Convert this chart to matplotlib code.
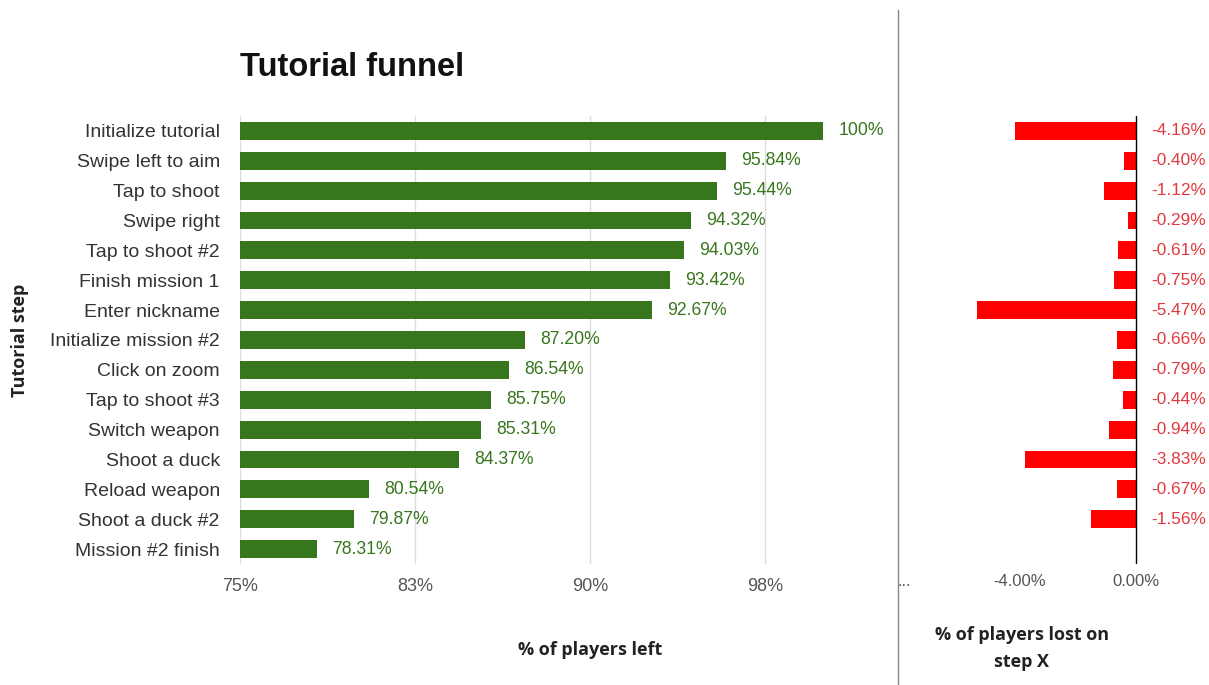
import matplotlib
matplotlib.use("Agg")
import matplotlib.pyplot as plt

steps = ["Initialize tutorial", "Swipe left to aim", "Tap to shoot", "Swipe right",
         "Tap to shoot #2", "Finish mission 1", "Enter nickname", "Initialize mission #2",
         "Click on zoom", "Tap to shoot #3", "Switch weapon", "Shoot a duck",
         "Reload weapon", "Shoot a duck #2", "Mission #2 finish"]
players_left = [100, 95.84, 95.44, 94.32, 94.03, 93.42, 92.67, 87.20,
                86.54, 85.75, 85.31, 84.37, 80.54, 79.87, 78.31]
players_lost = [-4.16, -0.40, -1.12, -0.29, -0.61, -0.75, -5.47, -0.66,
                -0.79, -0.44, -0.94, -3.83, -0.67, -1.56]
left_ticks = [75, 82.5, 90, 97.5]
left_tick_labels = ["75%", "83%", "90%", "98%"]
right_ticks = [-8, -4, 0]
right_tick_labels = ["...", "-4.00%", "0.00%"]

plt.rcParams['font.family'] = ['Liberation Sans', 'DejaVu Sans']
AXFONT = ['Open Sans', 'DejaVu Sans']

W, H = 1209, 685
fig = plt.figure(figsize=(W / 100, H / 100), dpi=100)

def frac(x0, y0, x1, y1):
    return [x0 / W, 1 - y1 / H, (x1 - x0) / W, (y1 - y0) / H]

GREEN = "#38761d"
RED = "#ff0000"
RED_TXT = "#e0393e"
GRAY = "#555555"

# Left panel
ax = fig.add_axes(frac(240, 116, 890, 564))
ypos = list(range(len(steps)))
ax.barh(ypos, [v - 75 for v in players_left], left=75, height=0.6, color=GREEN, zorder=3)
for y, v in zip(ypos, players_left):
    lbl = f"{v:.0f}%" if v == 100 else f"{v:.2f}%"
    ax.annotate(lbl, (v, y), xytext=(11, 0), textcoords="offset points",
                va="center", ha="left", color=GREEN, fontsize=12.7)
ax.set_xlim(75, 102.86)
ax.set_ylim(len(steps) - 0.5, -0.5)
ax.set_xticks(left_ticks)
ax.set_xticklabels(left_tick_labels, color=GRAY, fontsize=13)
ax.set_yticks(ypos)
ax.set_yticklabels(steps, color="#333333", fontsize=14)
ax.tick_params(axis="x", length=0, pad=10)
ax.tick_params(axis="y", length=0, pad=14.5)
ax.grid(axis="x", color="#dddddd", lw=1, zorder=0)
for s in ax.spines.values():
    s.set_visible(False)
ax.set_xlabel("% of players left", fontsize=13, fontweight="bold", color="#222222",
              labelpad=33, family=AXFONT, x=(590 - 240) / 650)
fig.text(20 / W, 1 - 340 / H, "Tutorial step", rotation=90, ha="center", va="center",
         fontsize=13, fontweight="bold", color="#222222", family=AXFONT)
fig.text(240 / W, 1 - 68 / H, "Tutorial funnel", fontsize=23.5, fontweight="bold",
         color="#111111", ha="left", va="center")

# Right panel
ax2 = fig.add_axes(frac(904, 116, 1208, 564))
ypos2 = list(range(len(players_lost)))
ax2.barh(ypos2, players_lost, height=0.6, color=RED, zorder=3)
for y, v in zip(ypos2, players_lost):
    ax2.annotate(f"{v:.2f}%", (0, y), xytext=(11, 0), textcoords="offset points",
                 va="center", ha="left", color=RED_TXT, fontsize=12.4)
ax2.axvline(0, color="black", lw=1, zorder=4)
ax2.set_xlim(-8, 2.48)
ax2.set_ylim(len(steps) - 0.5, -0.5)
ax2.set_xticks(right_ticks)
ax2.set_xticklabels(right_tick_labels, color=GRAY, fontsize=12)
ax2.set_yticks([])
ax2.tick_params(axis="x", length=0, pad=7)
for s in ax2.spines.values():
    s.set_visible(False)
ax2.set_xlabel("% of players lost on\nstep X", fontsize=13, fontweight="bold",
               color="#222222", labelpad=27, x=(1022 - 904) / 304, linespacing=1.6,
               family=AXFONT)

# Divider
fig.add_artist(plt.Line2D([898 / W, 898 / W], [0, 1 - 10 / H], color="#888888", lw=1))

fig.savefig("out.png", dpi=100, facecolor="white")
